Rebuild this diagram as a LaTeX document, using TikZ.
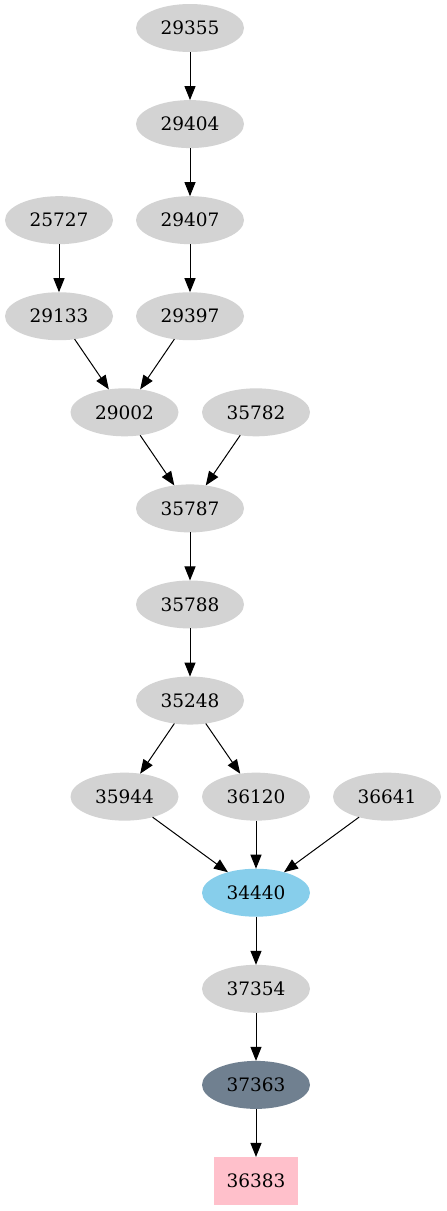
\documentclass[tikz,border=0pt]{standalone}
\usepackage{fontspec}
\setmainfont{DejaVu Serif}
\usetikzlibrary{arrows.meta,shapes.geometric}
\definecolor{lgray}{HTML}{D3D3D3}
\definecolor{skyb}{HTML}{87CEEB}
\definecolor{slateg}{HTML}{708090}
\definecolor{pinkc}{HTML}{FFC0CB}
\tikzset{
  nd/.style={ellipse, fill=lgray, minimum width=108pt, minimum height=48pt, inner sep=0pt, outer sep=0pt, font=\fontsize{18.5}{20}\selectfont},
  bx/.style={rectangle, fill=pinkc, minimum width=84pt, minimum height=48pt, inner sep=0pt, outer sep=0pt, font=\fontsize{18.5}{20}\selectfont},
  ed/.style={draw=black, line width=1pt, -{Triangle[length=14pt,width=11pt]}}
}
\begin{document}
\begin{tikzpicture}[x=1pt,y=-1pt]
\useasboundingbox (0,0) rectangle (447,1211);
\def\ry#1{28+96.08*#1}
\node[nd] (n29355) at (190,{\ry{0}}) {29355};
\node[nd] (n29404) at (190,{\ry{1}}) {29404};
\node[nd] (n25727) at (59,{\ry{2}}) {25727};
\node[nd] (n29407) at (190,{\ry{2}}) {29407};
\node[nd] (n29133) at (59,{\ry{3}}) {29133};
\node[nd] (n29397) at (190,{\ry{3}}) {29397};
\node[nd] (n29002) at (124.5,{\ry{4}}) {29002};
\node[nd] (n35782) at (256,{\ry{4}}) {35782};
\node[nd] (n35787) at (190,{\ry{5}}) {35787};
\node[nd] (n35788) at (190,{\ry{6}}) {35788};
\node[nd] (n35248) at (190,{\ry{7}}) {35248};
\node[nd] (n35944) at (124.5,{\ry{8}}) {35944};
\node[nd] (n36120) at (256,{\ry{8}}) {36120};
\node[nd] (n36641) at (387,{\ry{8}}) {36641};
\node[nd, fill=skyb] (n34440) at (256,{\ry{9}}) {34440};
\node[nd] (n37354) at (256,{\ry{10}}) {37354};
\node[nd, fill=slateg] (n37363) at (256,{\ry{11}}) {37363};
\node[bx] (n36383) at (256,{\ry{12}}) {36383};
\draw[ed] (n29355) -- (n29404);
\draw[ed] (n29404) -- (n29407);
\draw[ed] (n29407) -- (n29397);
\draw[ed] (n25727) -- (n29133);
\draw[ed] (n29133) -- (n29002);
\draw[ed] (n29397) -- (n29002);
\draw[ed] (n29002) -- (n35787);
\draw[ed] (n35782) -- (n35787);
\draw[ed] (n35787) -- (n35788);
\draw[ed] (n35788) -- (n35248);
\draw[ed] (n35248) -- (n35944);
\draw[ed] (n35248) -- (n36120);
\draw[ed] (n35944) -- (n34440);
\draw[ed] (n36120) -- (n34440);
\draw[ed] (n36641) -- (n34440);
\draw[ed] (n34440) -- (n37354);
\draw[ed] (n37354) -- (n37363);
\draw[ed] (n37363) -- (n36383);
\end{tikzpicture}
\end{document}
